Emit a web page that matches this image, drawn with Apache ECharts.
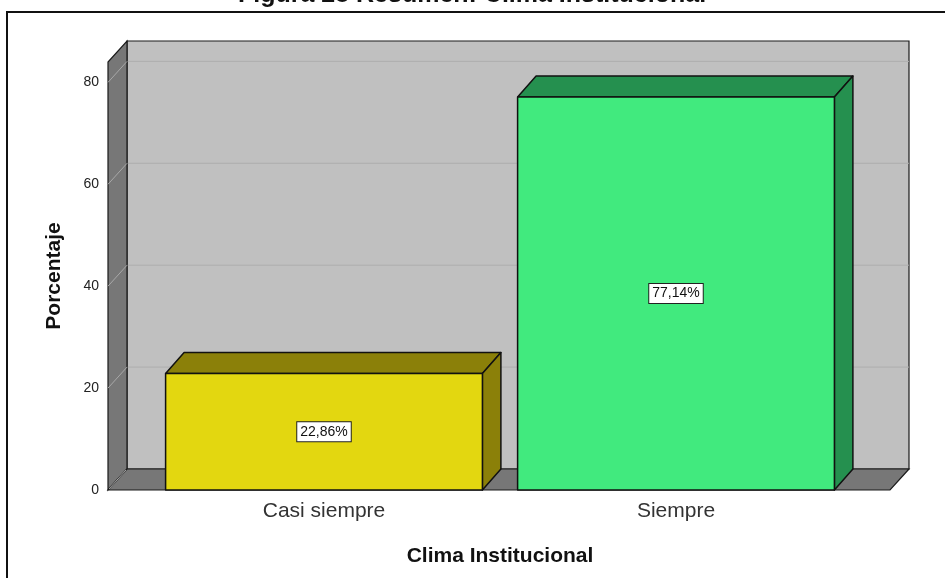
<!DOCTYPE html>
<html lang="es">
<head>
    <meta charset="UTF-8">
    <title>Clima Institucional</title>
    <script src="https://cdn.jsdelivr.net/npm/echarts@6/dist/echarts.min.js"></script>
    <style>
        html, body { margin: 0; padding: 0; background: #fff; }
        #chart { width: 945px; height: 578px; }
    </style>
</head>
<body>
<div id="chart"></div>
<script>
    // datos
    var categorias = ['Casi siempre', 'Siempre'];
    var porcentajes = [22.86, 77.14];
    var etiquetas = ['22,86%', '77,14%'];
    var ticksY = [0, 20, 40, 60, 80];

    var coloresFrente = ['#e3d710', '#41ea7e'];
    var coloresLado = ['#8b8009', '#25904f'];

    // profundidad del efecto 3d
    var DX = 19, DY = 21;
    var EXT_L = 40, EXT_R = 38;

    var myChart = echarts.init(document.getElementById('chart'));

    function paredes(params, api) {
        var cs = params.coordSys;
        var x0 = cs.x - EXT_L, x1 = cs.x + cs.width + EXT_R;
        var yb = api.coord([0, 0])[1], yt = cs.y;
        var kids = [];
        // pared del fondo
        kids.push({
            type: 'rect',
            shape: { x: x0 + DX, y: yt - DY, width: x1 - x0, height: yb - yt },
            style: { fill: '#c0c0c0', stroke: '#1a1a1a', lineWidth: 1.2 }
        });
        // lineas de cuadricula
        ticksY.forEach(function (v) {
            if (v === 0) return;
            var y = api.coord([0, v])[1];
            kids.push({
                type: 'line',
                shape: { x1: x0 + DX, y1: y - DY, x2: x1 + DX, y2: y - DY },
                style: { stroke: '#adadad', lineWidth: 1 }
            });
        });
        // pared lateral
        kids.push({
            type: 'polygon',
            shape: { points: [[x0, yb], [x0, yt], [x0 + DX, yt - DY], [x0 + DX, yb - DY]] },
            style: { fill: '#777777', stroke: '#1a1a1a', lineWidth: 1.2 }
        });
        ticksY.forEach(function (v) {
            if (v === 0) return;
            var y = api.coord([0, v])[1];
            kids.push({
                type: 'line',
                shape: { x1: x0, y1: y, x2: x0 + DX, y2: y - DY },
                style: { stroke: '#a8a8a8', lineWidth: 1 }
            });
        });
        // piso
        kids.push({
            type: 'polygon',
            shape: { points: [[x0, yb], [x0 + DX, yb - DY], [x1 + DX, yb - DY], [x1, yb]] },
            style: { fill: '#777777', stroke: '#1a1a1a', lineWidth: 1.2 }
        });
        kids.push({
            type: 'line',
            shape: { x1: x0 + 1, y1: yb - 1, x2: x0 + DX - 1, y2: yb - DY + 1 },
            style: { stroke: '#a8a8a8', lineWidth: 1 }
        });
        return { type: 'group', children: kids };
    }

    function barras(params, api) {
        var i = api.value(0);
        var top = api.coord([i, api.value(1)]);
        var base = api.coord([i, 0]);
        var w = api.size([1, 0])[0] * 0.9;
        var xl = top[0] - w / 2, xr = top[0] + w / 2;
        var yt = top[1], yb = base[1];
        var dy = 21, dx = 18.5;
        var estilo = { stroke: '#111', lineWidth: 1.5, lineJoin: 'round' };
        var lab = etiquetas[i];
        var ym = (yt + yb) / 2;
        return {
            type: 'group',
            children: [
                {
                    type: 'polygon',
                    shape: { points: [[xl, yt], [xl + dx, yt - dy], [xr + dx, yt - dy], [xr, yt]] },
                    style: Object.assign({ fill: coloresLado[i] }, estilo)
                },
                {
                    type: 'polygon',
                    shape: { points: [[xr, yt], [xr + dx, yt - dy], [xr + dx, yb - dy], [xr, yb]] },
                    style: Object.assign({ fill: coloresLado[i] }, estilo)
                },
                {
                    type: 'rect',
                    shape: { x: xl, y: yt, width: w, height: yb - yt },
                    style: Object.assign({ fill: coloresFrente[i] }, estilo)
                },
                {
                    type: 'text',
                    x: top[0], y: ym,
                    style: {
                        text: lab, align: 'center', verticalAlign: 'middle',
                        fontFamily: 'Liberation Sans', fontSize: 14, fill: '#111',
                        backgroundColor: '#fff', borderColor: '#222', borderWidth: 1,
                        padding: [3, 3, 2, 3]
                    }
                }
            ]
        };
    }

    var option = {
        animation: false,
        backgroundColor: '#fff',
        textStyle: { fontFamily: 'Liberation Sans' },
        graphic: [
            {
                type: 'rect',
                shape: { x: 7, y: 12, width: 1000, height: 1000 },
                style: { fill: 'none', stroke: '#111', lineWidth: 2 }
            },
            {
                type: 'text',
                x: 472, y: -5,
                style: {
                    text: 'Figura 28 Resumen: Clima Institucional',
                    align: 'center', verticalAlign: 'middle',
                    fontFamily: 'Liberation Sans', fontWeight: 'bold', fontSize: 25, fill: '#111'
                }
            }
        ],
        grid: { left: 148, right: 93, top: 62, bottom: 88 },
        xAxis: {
            type: 'category',
            data: categorias,
            name: 'Clima Institucional',
            nameLocation: 'middle',
            nameGap: 56,
            nameTextStyle: { fontSize: 21, fontWeight: 'bold', color: '#111' },
            axisLine: { show: false },
            axisTick: { show: false },
            axisLabel: { fontSize: 21, color: '#333', margin: 11 },
            splitLine: { show: false }
        },
        yAxis: {
            type: 'value',
            min: 0,
            max: 84,
            interval: 20,
            offset: EXT_L,
            name: 'Porcentaje',
            nameLocation: 'middle',
            nameGap: 43,
            nameTextStyle: { fontSize: 21, fontWeight: 'bold', color: '#111' },
            axisLine: { show: false },
            axisTick: { show: false },
            axisLabel: { fontSize: 14, color: '#222', margin: 9, showMaxLabel: false },
            splitLine: { show: false }
        },
        series: [
            {
                type: 'custom',
                renderItem: paredes,
                data: [[0, 0]],
                silent: true,
                z: 1
            },
            {
                type: 'custom',
                renderItem: barras,
                data: porcentajes.map(function (v, i) { return [i, v]; }),
                z: 2
            }
        ]
    };
    myChart.setOption(option);
</script>
</body>
</html>
